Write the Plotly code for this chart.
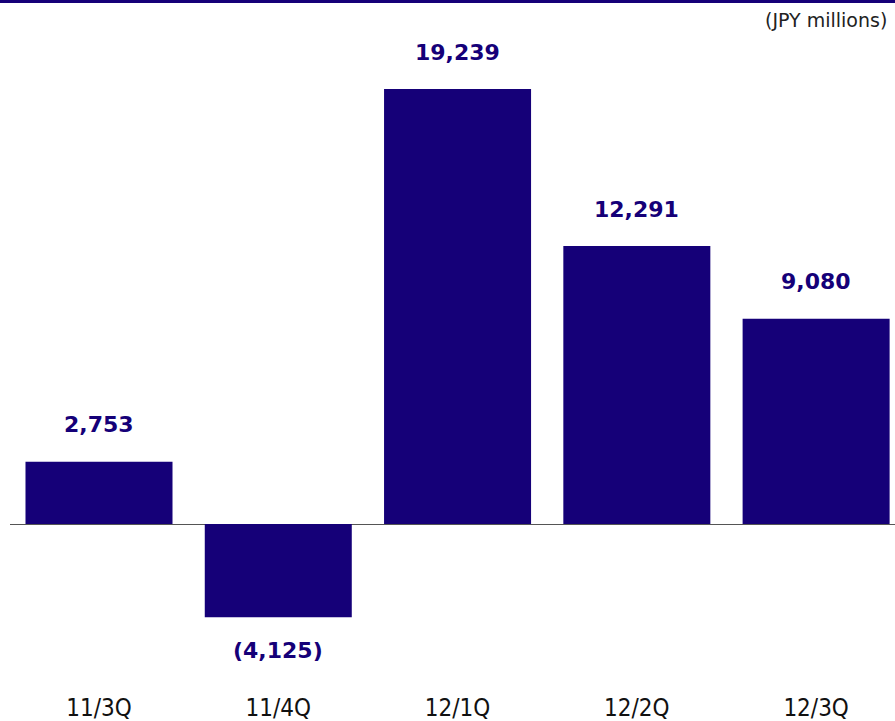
import plotly.graph_objects as go

categories = ["11/3Q", "11/4Q", "12/1Q", "12/2Q", "12/3Q"]
values = [2753, -4125, 19239, 12291, 9080]
labels = ["2,753", "(4,125)", "19,239", "12,291", "9,080"]
unit_label = "(JPY millions)"

NAVY = "#150078"

fig = go.Figure()
fig.add_trace(go.Bar(
    x=list(range(len(categories))), y=values,
    marker=dict(color=NAVY, line=dict(width=0)),
    width=0.82, hoverinfo="skip",
))

annotations = []
for i, (v, t) in enumerate(zip(values, labels)):
    annotations.append(dict(
        x=i, y=v, xref="x", yref="y", text=t, showarrow=False,
        yanchor="middle", yshift=37 if v >= 0 else -33,
        font=dict(family="DejaVu Sans", size=22, color=NAVY, weight="bold"),
    ))
annotations.append(dict(
    x=1, y=1, xref="paper", yref="paper", xanchor="right", yanchor="middle",
    xshift=-6, yshift=10, text=unit_label, showarrow=False,
    font=dict(family="DejaVu Sans", size=19, color="#222222"),
))

W, H = 895, 721
ml, mr, mt, mb = 10, 0, 30, 40
plot_h = H - mt - mb
fig.update_layout(
    width=W, height=H,
    margin=dict(l=ml, r=mr, t=mt, b=mb, autoexpand=False),
    paper_bgcolor="white", plot_bgcolor="white",
    showlegend=False,
    xaxis=dict(
        range=[-0.4964, 4.44], tickmode="array",
        tickvals=list(range(len(categories))), ticktext=categories,
        showgrid=False, zeroline=False, showline=False, ticks="",
        tickfont=dict(family="Liberation Sans Narrow, DejaVu Sans Condensed, sans-serif", size=24, color="#111111"),
        ticklabelstandoff=10, automargin=False,
    ),
    yaxis=dict(
        range=[-(681 - 524) / 0.02261, (524 - 30) / 0.02261],
        showgrid=False, showticklabels=False, ticks="",
        zeroline=True, zerolinecolor="#555555", zerolinewidth=1,
        showline=False, automargin=False,
    ),
    annotations=annotations,
    shapes=[dict(
        type="line", xref="paper", yref="paper",
        x0=-ml / (W - ml - mr), x1=1, y0=1 + 28.5 / plot_h, y1=1 + 28.5 / plot_h,
        line=dict(color=NAVY, width=3),
    )],
)

fig.write_html(
    "out.html",
    config={"displayModeBar": False},
    post_script="document.body.style.margin='0';document.body.style.overflow='hidden';",
)
